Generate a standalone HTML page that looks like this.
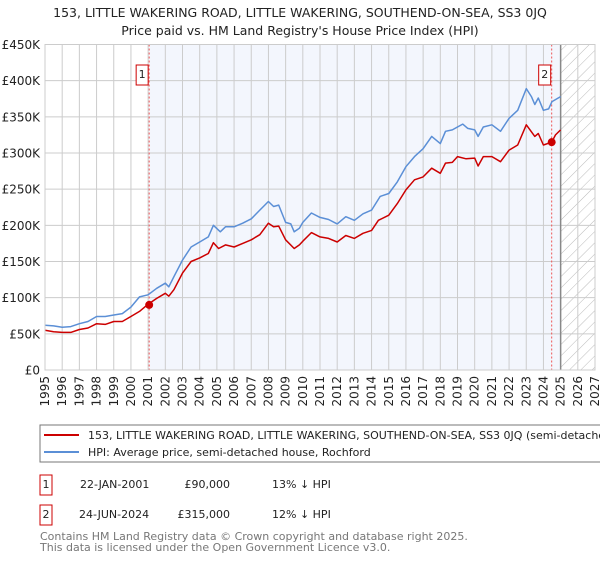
<!DOCTYPE html>
<html><head><meta charset="utf-8"><style>
html,body{margin:0;padding:0;background:#fff;}
body{width:600px;height:560px;overflow:hidden;font-family:"DejaVu Sans","Liberation Sans",sans-serif;}
svg text{font-family:"DejaVu Sans","Liberation Sans",sans-serif;}
</style></head><body>
<svg id="chart" width="600" height="560" viewBox="0 0 600 560" xmlns="http://www.w3.org/2000/svg">
<defs>
<pattern id="hatch" patternUnits="userSpaceOnUse" width="8" height="8" patternTransform="rotate(45)">
<line x1="0" y1="0" x2="0" y2="8" stroke="#bbb" stroke-width="1"/>
</pattern>
</defs>
<text x="300" y="17" font-size="12.5" text-anchor="middle" fill="#222">153, LITTLE WAKERING ROAD, LITTLE WAKERING, SOUTHEND-ON-SEA, SS3 0JQ</text>
<text x="300" y="35" font-size="12.5" text-anchor="middle" fill="#222">Price paid vs. HM Land Registry's House Price Index (HPI)</text>
<g id="plot"></g>
<g>
<rect x="40" y="425" width="565" height="37" fill="#fff" stroke="#777" stroke-width="1"/>
<line x1="44" y1="435" x2="79" y2="435" stroke="#cc0000" stroke-width="2"/>
<text x="88" y="439" font-size="11" fill="#222">153, LITTLE WAKERING ROAD, LITTLE WAKERING, SOUTHEND-ON-SEA, SS3 0JQ (semi-detached house)</text>
<line x1="44" y1="452" x2="79" y2="452" stroke="#5b8fd6" stroke-width="2"/>
<text x="88" y="456" font-size="11" fill="#222">HPI: Average price, semi-detached house, Rochford</text>
</g>
<g font-size="11" fill="#222">
<rect x="40" y="475" width="12" height="20" fill="#fff" stroke="#cc0000"/>
<text x="46" y="488" text-anchor="middle">1</text>
<text x="80" y="488">22-JAN-2001</text>
<text x="230" y="488" text-anchor="end">£90,000</text>
<text x="272" y="488">13% ↓ HPI</text>
<rect x="40" y="505" width="12" height="20" fill="#fff" stroke="#cc0000"/>
<text x="46" y="518" text-anchor="middle">2</text>
<text x="79" y="518">24-JUN-2024</text>
<text x="230" y="518" text-anchor="end">£315,000</text>
<text x="272" y="518">12% ↓ HPI</text>
</g>
<text x="40" y="540" font-size="11" fill="#777">Contains HM Land Registry data © Crown copyright and database right 2025.</text>
<text x="40" y="551" font-size="11" fill="#777">This data is licensed under the Open Government Licence v3.0.</text>
</svg>
<script>
const yTicks=[0,50000,100000,150000,200000,250000,300000,350000,400000,450000];
const yTickLabels=["£0","£50K","£100K","£150K","£200K","£250K","£300K","£350K","£400K","£450K"];
const xYears=[1995,1996,1997,1998,1999,2000,2001,2002,2003,2004,2005,2006,2007,2008,2009,2010,2011,2012,2013,2014,2015,2016,2017,2018,2019,2020,2021,2022,2023,2024,2025,2026,2027];
const hpiDates=[1995,1995.5,1996,1996.5,1997,1997.5,1998,1998.5,1999,1999.5,2000,2000.5,2001,2001.5,2002,2002.2,2002.5,2003,2003.5,2004,2004.5,2004.8,2005.2,2005.5,2006,2006.5,2007,2007.5,2008,2008.3,2008.6,2009,2009.3,2009.5,2009.8,2010,2010.5,2011,2011.5,2012,2012.5,2013,2013.5,2014,2014.5,2015,2015.5,2016,2016.5,2017,2017.5,2018,2018.3,2018.7,2019,2019.3,2019.6,2020,2020.2,2020.5,2021,2021.5,2022,2022.5,2023,2023.3,2023.5,2023.7,2024,2024.3,2024.5,2025];
const hpiValues=[62000,61000,59000,60000,64000,67000,74000,74000,76000,78000,87000,101000,104000,113000,120000,115000,129000,152000,170000,177000,184000,200000,191000,198000,198000,203000,209000,221000,233000,226000,228000,204000,202000,191000,196000,204000,217000,211000,208000,202000,212000,207000,216000,221000,240000,244000,260000,281000,295000,306000,323000,313000,330000,332000,336000,340000,334000,332000,323000,336000,339000,330000,348000,359000,389000,378000,367000,376000,359000,361000,371000,378000];
const priceDates=[1995,1995.5,1996,1996.5,1997,1997.5,1998,1998.5,1999,1999.5,2000,2000.5,2001,2001.5,2002,2002.2,2002.5,2003,2003.5,2004,2004.5,2004.8,2005.1,2005.5,2006,2006.5,2007,2007.5,2008,2008.3,2008.6,2009,2009.5,2009.8,2010,2010.5,2011,2011.5,2012,2012.5,2013,2013.5,2014,2014.4,2015,2015.5,2016,2016.5,2017,2017.5,2018,2018.3,2018.7,2019,2019.5,2020,2020.2,2020.5,2021,2021.5,2022,2022.5,2023,2023.5,2023.7,2024,2024.48,2024.7,2025];
const priceValues=[55000,53000,52000,52000,56000,58000,64000,63000,67000,67000,74000,81000,91000,99000,106000,102000,111000,134000,150000,155000,161000,176000,168000,173000,170000,175000,180000,187000,203000,198000,199000,180000,168000,173000,178000,190000,184000,182000,177000,186000,182000,189000,193000,207000,214000,230000,249000,263000,267000,279000,272000,286000,287000,295000,292000,293000,282000,295000,295000,288000,304000,311000,339000,323000,327000,311000,315000,325000,332000];
const saleDates=[2001.06,2024.48];
const saleValues=[90000,315000];
const saleLabels=["1","2"];
const forecastStart=2025;

const X0=45,X1=595,Y0=370,Y1=44.5,XMIN=1995,XMAX=2027,YMAX=450000;
const xs=v=>X0+(v-XMIN)/(XMAX-XMIN)*(X1-X0);
const ys=v=>Y0-v/YMAX*(Y0-Y1);
const NS="http://www.w3.org/2000/svg";
const plot=document.getElementById('plot');
function mk(tag,attrs,parent){const e=document.createElementNS(NS,tag);for(const k in attrs)e.setAttribute(k,attrs[k]);(parent||plot).appendChild(e);return e;}

let bg=mk('rect',{x:X0,y:Y1,width:X1-X0,height:Y0-Y1,fill:'#fff'});


let sh=mk('rect',{x:xs(saleDates[0]),y:Y1,width:xs(forecastStart)-xs(saleDates[0]),height:Y0-Y1,fill:'#f3f6fd'});


let ht=mk('rect',{x:xs(forecastStart),y:Y1,width:X1-xs(forecastStart),height:Y0-Y1,fill:'url(#hatch)'});



xYears.forEach(yr=>{
  let g=mk('line',{x1:xs(yr),x2:xs(yr),y1:Y1,y2:Y0,stroke:'#ccc','stroke-width':1});
  
  
  let t=mk('text',{transform:`translate(${xs(yr)+4},376) rotate(-90)`,'font-size':12,'text-anchor':'end',fill:'#222'});
  
  
  t.textContent=yr;
});
yTicks.forEach((v,i)=>{
  let g=mk('line',{x1:X0,x2:X1,y1:ys(v),y2:ys(v),stroke:'#ccc','stroke-width':1});
  
  
  let t=mk('text',{x:40,y:ys(v)+4.5,'font-size':12,'text-anchor':'end',fill:'#222'});
  
  
  t.textContent=yTickLabels[i];
});
let fl=mk('line',{x1:xs(forecastStart),x2:xs(forecastStart),y1:Y1,y2:Y0,stroke:'#888','stroke-width':1.5});



saleDates.forEach((d,i)=>{
  let l=mk('line',{x1:xs(d),x2:xs(d),y1:Y1,y2:Y0,stroke:'#e55','stroke-width':1,'stroke-dasharray':'2,2'});
  
  
});

function path(dates,vals){return dates.map((d,i)=>(i?'L':'M')+xs(d).toFixed(1)+','+ys(vals[i]).toFixed(1)).join(' ');}
let hp=mk('path',{d:path(hpiDates,hpiValues),fill:'none',stroke:'#5b8fd6','stroke-width':1.5,'stroke-linejoin':'round'});


let pp=mk('path',{d:path(priceDates,priceValues),fill:'none',stroke:'#cc0000','stroke-width':1.5,'stroke-linejoin':'round'});



saleDates.forEach((d,i)=>{
  let c=mk('circle',{cx:xs(d),cy:ys(saleValues[i]),r:4,fill:'#cc0000'});
  
  
  let b=mk('rect',{x:xs(d)-13,y:65,width:12,height:20,fill:'#fff',stroke:'#cc0000'});
  
  
  let t=mk('text',{x:xs(d)-7,y:78,'font-size':11,'text-anchor':'middle',fill:'#222'});
  
  
  t.textContent=saleLabels[i];
});
let fr=mk('rect',{x:X0,y:Y1,width:X1-X0,height:Y0-Y1,fill:'none',stroke:'#ccc'});


</script>
</body></html>
